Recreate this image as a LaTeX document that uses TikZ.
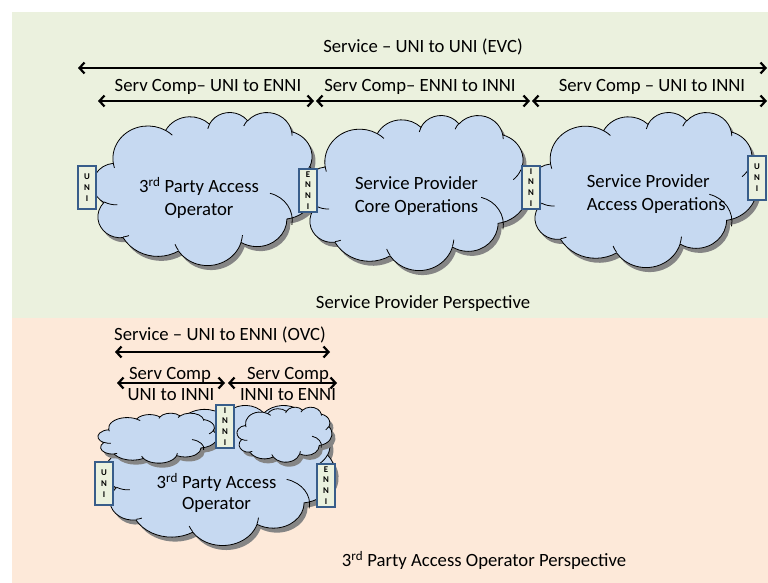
\documentclass[tikz,border=0pt]{standalone}
\usepackage{fontspec}
\setmainfont{Carlito}
\usetikzlibrary{arrows.meta}
\definecolor{panelgreen}{HTML}{EBF1DE}
\definecolor{panelpeach}{HTML}{FDE9D9}
\definecolor{cloudblue}{HTML}{C6D9F1}
\definecolor{boxfill}{HTML}{EBF1DE}
\definecolor{boxline}{HTML}{385D8A}

% elliptical arc in the DrawingML way: #1 wR, #2 hR, #3 start angle (visual), #4 sweep
\newcommand\ooarc[4]{%
  \pgfextra{%
    \pgfmathsetmacro\ooTa{#3}%
    \pgfmathsetmacro\ooTb{#3+#4}%
    \pgfmathsetmacro\ooPa{atan2((#1)*sin(\ooTa),(#2)*cos(\ooTa))}%
    \pgfmathsetmacro\ooPb{atan2((#1)*sin(\ooTb),(#2)*cos(\ooTb))}%
    \pgfmathsetmacro\ooD{\ooPb-\ooPa}%
    \pgfmathsetmacro\ooD{\ooD+((#4)>0)*(\ooD<0)*360-((#4)<0)*(\ooD>0)*360}%
    \xdef\ooStart{\ooPa}\xdef\ooDelta{\ooD}%
  }%
  arc[start angle=\ooStart, delta angle=\ooDelta, x radius=#1, y radius=#2]%
}
\newcommand\cloudouter{(39.00,143.70)
  \ooarc{67.53}{91.90}{-190.4875}{123.7805}
  \ooarc{53.33}{72.67}{-144.1024}{89.9452}
  \ooarc{43.65}{59.45}{-145.8079}{99.7230}
  \ooarc{48.57}{65.95}{-130.9861}{117.2417}
  \ooarc{53.33}{72.73}{-78.7089}{109.0269}
  \ooarc{67.75}{92.20}{-46.2673}{130.2690}
  \ooarc{57.85}{78.67}{0.6250}{114.0333}
  \ooarc{67.52}{92.15}{22.4516}{115.1726}
  \ooarc{77.20}{105.43}{66.2426}{75.7110}
  \ooarc{43.60}{59.18}{-274.9421}{146.7356}
  \ooarc{43.45}{59.45}{-246.8285}{152.5189}
  -- cycle}
\newcommand\cloudinner{%
  (46.93,261.77) \ooarc{43.45}{59.45}{86.7420}{26.4295}
  (69.28,348.99) \ooarc{43.60}{59.18}{73.6105}{11.4475}
  (164.78,390.90) \ooarc{67.52}{92.15}{137.6242}{14.0811}
  (288.27,347.51) \ooarc{67.52}{92.15}{6.4533}{15.9984}
  (341.29,229.54) \ooarc{57.85}{78.67}{-79}{92}
  (417.98,153.54) \ooarc{53.33}{72.73}{30.3180}{27.7515}
  (383.24,54.26) \ooarc{48.57}{65.95}{-13.7443}{14.8640}
  (290.78,39.52) \ooarc{48.57}{65.95}{-149.1815}{18.1954}
  (221.41,47.20) \ooarc{43.65}{59.45}{-163.4943}{17.6864}
  (140.00,51.92) \ooarc{67.53}{91.90}{-66.7070}{12.3194}
  (41.27,157.89) \ooarc{67.53}{91.90}{157.6544}{11.8582}}
% #1 left, #2 top, #3 width, #4 height (pixels)
\newcommand\pptcloud[4]{%
  \pgfmathsetmacro\cloudsx{#3/432}%
  \pgfmathsetmacro\cloudsy{#4/432}%
  \begin{scope}[shift={(#1,#2)},x=\cloudsx pt,y=-\cloudsy pt]
    \fill[cloudshadow] \cloudouter;
    \filldraw[cloudbody] \cloudouter;
    \draw[cloudline] \cloudinner;
  \end{scope}}

\tikzset{
  cloudshadow/.style={fill=black!48, xshift=3.5pt, yshift=-4.5pt},
  cloudbody/.style={fill=cloudblue, draw=black, line width=0.8pt},
  cloudline/.style={draw=black, line width=0.8pt},
  ifbox/.style={draw=boxline, fill=boxfill, line width=1.8pt,
    minimum width=18.5pt, minimum height=43.5pt, inner sep=0pt, align=center,
    font=\fontsize{8.8}{10.9}\selectfont\bfseries},
  lbl/.style={font=\fontsize{18.7}{22}\selectfont, inner sep=0pt, anchor=base},
  lblw/.style={lbl, anchor=base west},
  span/.style={line width=2.2pt, <->, >={Straight Barb[length=5pt,width=11pt]}},
}

\begin{document}
\begin{tikzpicture}[x=1pt,y=-1pt]
\useasboundingbox (0,0) rectangle (768,583);
\fill[white] (0,0) rectangle (768,583);
\fill[panelgreen] (12,12) rectangle (768,318);
\fill[panelpeach] (12,318) rectangle (768,583);

% ---------- top: service provider perspective ----------
\pptcloud{93}{112}{224}{153}
\pptcloud{305}{115}{223}{155}
\pptcloud{530}{112}{227}{155}

\node[ifbox] (uniA) at (87,187.5) {U\\N\\I};
\node[ifbox] (enniA) at (308,190.5) {E\\N\\N\\I};
\node[ifbox] (inniA) at (531,187.5) {I\\N\\N\\I};
\node[ifbox] (uniB) at (757,178) {U\\N\\I};

\node[lbl] (c1a) at (199,192.7) {3\textsuperscript{rd} Party Access};
\node[lbl] (c1b) at (199,215) {Operator};
\node[lbl] (c2a) at (416.5,189.3) {Service Provider};
\node[lbl] (c2b) at (416.5,212.7) {Core Operations};
\node[lblw] (c3a) at (586.7,187.3) {Service Provider};
\node[lblw] (c3b) at (586.7,210.7) {Access Operations};

\node[lbl] (evc) at (423,53) {Service – UNI to UNI (EVC)};
\coordinate (evcL) at (78,68);
\coordinate (evcR) at (767,68);
\draw[span] (evcL) -- (evcR);

\node[lbl] (sc1) at (208,92) {Serv Comp– UNI to ENNI};
\node[lbl] (sc2) at (420,92) {Serv Comp– ENNI to INNI};
\node[lbl] (sc3) at (652,92) {Serv Comp – UNI to INNI};
\coordinate (s1L) at (98,101);
\coordinate (s1R) at (314,101);
\coordinate (s2L) at (316,101);
\coordinate (s2R) at (530,101);
\coordinate (s3L) at (532,101);
\coordinate (s3R) at (767,101);
\draw[span] (s1L) -- (s1R);
\draw[span] (s2L) -- (s2R);
\draw[span] (s3L) -- (s3R);

\node[lbl] (spp) at (423,308) {Service Provider Perspective};

% ---------- bottom: 3rd party access operator perspective ----------
\pptcloud{105}{405}{230}{140}
\pptcloud{98}{413}{119}{50}
\pptcloud{237}{407}{95}{55}

\node[ifbox] (uniC) at (104,483.5) {U\\N\\I};
\node[ifbox] (inniC) at (225,426.5) {I\\N\\N\\I};
\node[ifbox] (enniC) at (326,485.5) {E\\N\\N\\I};

\node[lbl] (c4a) at (216.5,488.3) {3\textsuperscript{rd} Party Access};
\node[lbl] (c4b) at (216.5,509.3) {Operator};

\node[lbl] (ovc) at (220,340.7) {Service – UNI to ENNI (OVC)};
\coordinate (ovcL) at (115,352);
\coordinate (ovcR) at (330,352);
\draw[span] (ovcL) -- (ovcR);

\node[lbl] (sc4a) at (170,379) {Serv Comp};
\node[lbl] (sc4b) at (171,400.5) {UNI to INNI};
\node[lbl] (sc5a) at (288,379) {Serv Comp};
\node[lbl] (sc5b) at (288,400.5) {INNI to ENNI};
\coordinate (s4L) at (117,383);
\coordinate (s4R) at (225,383);
\coordinate (s5L) at (228,383);
\coordinate (s5R) at (337,383);
\draw[span] (s4L) -- (s4R);
\draw[span] (s5L) -- (s5R);

\node[lbl] (tpp) at (484,566.7) {3\textsuperscript{rd} Party Access Operator Perspective};
\end{tikzpicture}
\end{document}
